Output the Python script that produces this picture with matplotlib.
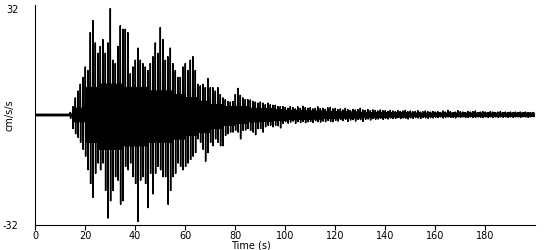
import numpy as np
import matplotlib
matplotlib.use("Agg")
import matplotlib.pyplot as plt


# DATA
# Per-second peaks of the accelerogram (cm/s/s)

t_sec = np.arange(0, 200)

upper = [
    0.3, 0.3, 0.3, 0.3, 0.3, 0.3, 0.3, 0.3, 0.3, 0.3,
    0.3, 0.3, 0.3, 0.3, 0.8, 2.5, 5, 7, 9, 11,
    14, 13, 24, 27.5, 21, 18, 20, 22, 18, 21,
    31, 16, 15, 20, 26, 25, 25, 24, 12, 14,
    16, 19.5, 16, 15, 14, 13, 15, 17, 21, 18,
    25.5, 22, 16, 17, 19.5, 15, 13, 11, 11, 14,
    15, 13, 16, 17, 13, 9, 8.5, 9, 8, 10.7,
    8, 8, 7, 8, 6, 5, 4.5, 4, 3.8, 4,
    6, 7.8, 5.8, 5, 4.5, 4.5, 4.4, 4, 3.8, 3.5,
    3.8, 3.5, 3, 3.5, 3, 2.9, 2.9, 2.5, 2.5, 2.5,
    2.3, 2.0, 2.5, 2.2, 1.8, 2.4, 2.0, 2.6, 2.2, 2.0,
    2.2, 1.8, 2.0, 2.4, 1.9, 2.0, 1.7, 2.1, 2.3, 1.8,
    2.0, 1.6, 1.8, 1.5, 2.0, 1.6, 1.4, 1.7, 1.5, 1.6,
    2.0, 1.5, 1.4, 1.6, 1.3, 1.5, 1.4, 1.2, 1.5, 1.3,
    1.3, 1.1, 1.4, 1.2, 1.0, 1.3, 1.1, 1.2, 1.4, 1.0,
    1.2, 1.0, 1.1, 1.3, 0.9, 1.0, 1.2, 1.0, 0.9, 1.1,
    0.9, 1.0, 0.8, 1.2, 0.9, 1.4, 1.0, 0.8, 0.9, 1.3,
    1.0, 0.9, 0.8, 1.1, 0.9, 1.0, 1.2, 0.8, 0.9, 1.0,
    0.9, 0.8, 1.0, 0.9, 0.8, 0.9, 1.0, 0.8, 0.9, 0.8,
    0.9, 0.8, 0.9, 0.8, 0.9, 0.8, 0.9, 0.8, 0.7, 0.8,
]

lower = [
    -0.3, -0.3, -0.3, -0.3, -0.3, -0.3, -0.3, -0.3, -0.3, -0.3,
    -0.3, -0.3, -0.3, -0.3, -1, -4, -5.5, -6.5, -8, -10,
    -12, -16, -20, -24, -17, -14, -16, -14, -22, -30,
    -25, -22, -18, -19, -26, -25, -15, -16, -14, -18,
    -20, -31, -19, -18, -20, -27, -17, -23, -17, -15,
    -16, -18, -18, -26, -22, -18, -17, -14, -15, -16,
    -15, -14, -13, -12, -11, -7, -8, -10, -13.5, -11,
    -8, -9, -7, -8, -9, -9, -6, -5.5, -5, -5,
    -4.5, -5, -7, -4.5, -4.4, -4, -4.5, -5, -5.8, -4,
    -4, -5, -3.5, -3, -3, -3.5, -3, -3.2, -3.8, -2.5,
    -2.0, -2.4, -2.1, -1.8, -2.5, -2.0, -2.2, -1.9, -2.3, -2.0,
    -1.9, -2.2, -1.7, -2.0, -2.1, -1.8, -2.0, -1.6, -1.9, -2.0,
    -1.6, -1.8, -1.4, -1.7, -1.3, -1.9, -1.5, -1.4, -1.8, -1.3,
    -1.4, -1.9, -1.3, -1.2, -1.5, -1.1, -1.3, -1.2, -1.0, -1.3,
    -1.0, -1.2, -0.9, -1.1, -1.0, -0.8, -1.1, -0.9, -1.0, -1.2,
    -0.9, -1.0, -0.8, -0.9, -1.1, -0.8, -0.9, -1.0, -0.8, -0.9,
    -0.7, -0.8, -0.6, -0.9, -0.7, -0.6, -0.8, -0.7, -0.9, -0.6,
    -0.7, -0.6, -0.8, -0.7, -0.6, -0.8, -0.7, -0.6, -0.7, -0.8,
    -0.6, -0.7, -0.6, -0.8, -0.6, -0.7, -0.6, -0.7, -0.6, -0.7,
    -0.6, -0.7, -0.6, -0.6, -0.7, -0.6, -0.6, -0.7, -0.6, -0.5,
]

# Solid band of the trace, one reading per 5 s block
core_upper = [
    0.3, 0.3, 0.3, 2, 8, 9, 9, 8, 8, 7,
    7, 6, 5, 4, 3, 2.5, 2.5, 2, 1.8, 1.6,
    1.4, 1.3, 1.2, 1.1, 1.0, 0.9, 0.8, 0.8, 0.7, 0.7,
    0.6, 0.6, 0.6, 0.6, 0.6, 0.6, 0.6, 0.6, 0.6, 0.6,
]
core_lower = [
    -0.3, -0.3, -0.3, -2, -8, -10, -10, -9, -9, -8,
    -8, -7, -6, -5, -4, -3, -2.5, -2, -1.8, -1.6,
    -1.4, -1.3, -1.2, -1.0, -0.9, -0.9, -0.8, -0.8, -0.6, -0.6,
    -0.5, -0.5, -0.5, -0.5, -0.5, -0.5, -0.5, -0.5, -0.5, -0.5,
]

x_ticks = [0, 20, 40, 60, 80, 100, 120, 140, 160, 180]
y_ticks = [-32, 32]


# TRACE
# Each second: two swings to the peaks, then swings inside the solid band

band_hi = np.repeat(core_upper, 5)
band_lo = np.repeat(core_lower, 5)
cols = np.column_stack([upper, lower, upper, lower, band_hi, band_lo, band_hi, band_lo])
x = (t_sec[:, None] + np.arange(cols.shape[1])[None, :] / cols.shape[1]).ravel()
y = cols.ravel()


# PLOT

fig = plt.figure(figsize=(5.5, 2.5), dpi=100)
ax = fig.add_axes([35 / 550, 25 / 250, 500 / 550, 220 / 250])

ax.plot(x, y, color="black", linewidth=0.6)

ax.set_xlim(0, 200)
ax.set_ylim(-32, 32)
ax.set_xticks(x_ticks)
ax.set_yticks(y_ticks)
ax.set_yticklabels([str(v) for v in y_ticks])

for side in ["top", "right"]:
    ax.spines[side].set_visible(False)
for side in ["left", "bottom"]:
    ax.spines[side].set_linewidth(0.8)

ax.tick_params(axis="x", direction="out", length=3.5, width=0.8, pad=1, labelsize=7)
ax.tick_params(axis="y", length=0, pad=12, labelsize=7)
ax.get_yticklabels()[1].set_va("top")

ax.set_xlabel("Time (s)", fontsize=7)
ax.xaxis.set_label_coords(0.432, -0.114)
ax.xaxis.label.set_va("bottom")
ax.set_ylabel("cm/s/s", fontsize=7)
ax.yaxis.set_label_coords(-0.04, 0.5)

fig.savefig("out.png", dpi=100)
